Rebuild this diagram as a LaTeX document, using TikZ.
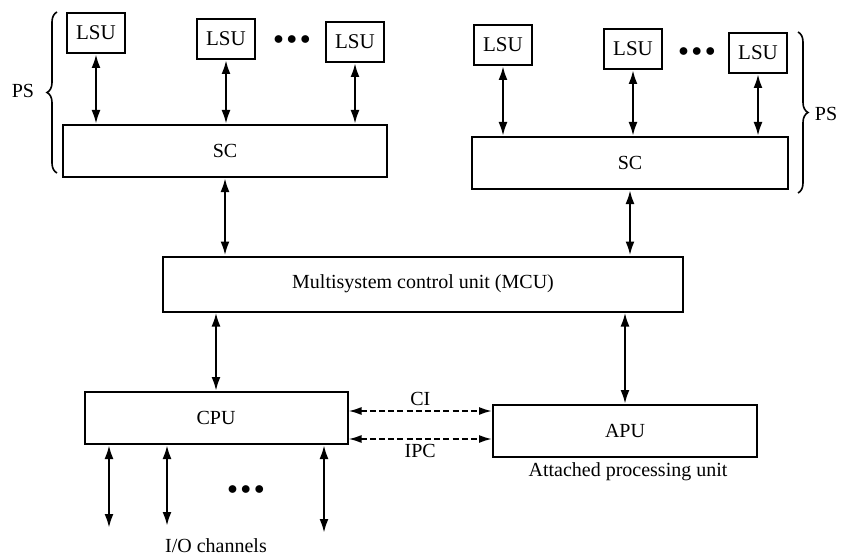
\documentclass[tikz,border=0pt]{standalone}
\usepackage{fontspec}
\setmainfont{Liberation Serif}
\usepackage{tikz}
\usetikzlibrary{arrows.meta,decorations.pathreplacing}

\begin{document}
\begin{tikzpicture}[x=0.5pt, y=-0.5pt,
  lsu/.style={draw, line width=1pt, minimum width=29pt, minimum height=20pt, inner sep=1pt, font=\fontsize{10.5}{12}\selectfont},
  box/.style={draw, line width=1pt, minimum height=26pt, inner sep=1pt, font=\fontsize{10}{12}\selectfont},
  lbl/.style={font=\fontsize{10}{12}\selectfont, inner sep=1pt},
  dots/.style={font=\fontsize{10}{12}\selectfont, inner sep=0pt},
  arr/.style={{Latex[length=7pt,width=4.5pt]}-{Latex[length=7pt,width=4.5pt]}, line width=1.2pt},
  darr/.style={{Latex[length=6.5pt,width=4pt]}-{Latex[length=6.5pt,width=4pt]}, line width=0.9pt, dash pattern=on 3pt off 1.6pt},
  brc/.style={decorate, decoration={brace, amplitude=5pt}, line width=0.8pt}
]
\useasboundingbox (0,0) rectangle (841,556);
% left processing system
\node[lsu] (lsuA) at (96,33)  {LSU};
\node[lsu] (lsuB) at (226,39) {LSU};
\node[dots] (dotA) at (292,40) {$\bullet\mkern-1mu\bullet\mkern-1mu\bullet$};
\node[lsu] (lsuC) at (355,42) {LSU};
\node[box, minimum width=162pt] (scL) at (225,151) {SC};
% right processing system
\node[lsu] (lsuD) at (503,45) {LSU};
\node[lsu] (lsuE) at (633,49) {LSU};
\node[dots] (dotB) at (697,52) {$\bullet\mkern-1mu\bullet\mkern-1mu\bullet$};
\node[lsu] (lsuF) at (758,53) {LSU};
\node[box, minimum width=158pt] (scR) at (630,163) {SC};
% braces
\draw[brc] (57,173) -- (57,12);
\node[lbl] (psL) at (23,91) {PS};
\draw[brc] (798,32) -- (798,193);
\node[lbl] (psR) at (826,114) {PS};
% control unit and processors
\node[box, minimum width=260pt, minimum height=27.5pt] (mcu) at (423,284) {Multisystem control unit (MCU)};
\node[box, minimum width=131.5pt] (cpu) at (216,418) {CPU};
\node[box, minimum width=132pt] (apu) at (625,431) {APU};
\node[lbl] (apuname) at (628,472) {Attached processing unit};
% I/O channels
\coordinate (ioA) at (109,528);
\coordinate (ioB) at (167,526);
\coordinate (ioC) at (324,533);
\node[dots] (dotC) at (246,490) {$\bullet\mkern-1mu\bullet\mkern-1mu\bullet$};
\node[lbl] (ioname) at (216,546) {I/O channels};
\coordinate (ci) at (421,411);
\coordinate (ipc) at (421,439);
% connectors
\foreach \n in {lsuA,lsuB,lsuC}
  \draw[arr] (\n.south) -- (\n.south |- scL.north);
\foreach \n in {lsuD,lsuE,lsuF}
  \draw[arr] (\n.south) -- (\n.south |- scR.north);
\draw[arr] (scL.south) -- (scL.south |- mcu.north);
\draw[arr] (scR.south) -- (scR.south |- mcu.north);
\draw[arr] (cpu.north |- mcu.south) -- (cpu.north);
\draw[arr] (apu.north |- mcu.south) -- (apu.north);
\draw[darr] (cpu.east |- ci) -- node[lbl, above=1pt]{CI} (apu.west |- ci);
\draw[darr] (cpu.east |- ipc) -- node[lbl, below=1pt]{IPC} (apu.west |- ipc);
\foreach \n in {ioA,ioB,ioC}
  \draw[arr] (\n |- cpu.south) -- (\n);
\end{tikzpicture}
\end{document}
